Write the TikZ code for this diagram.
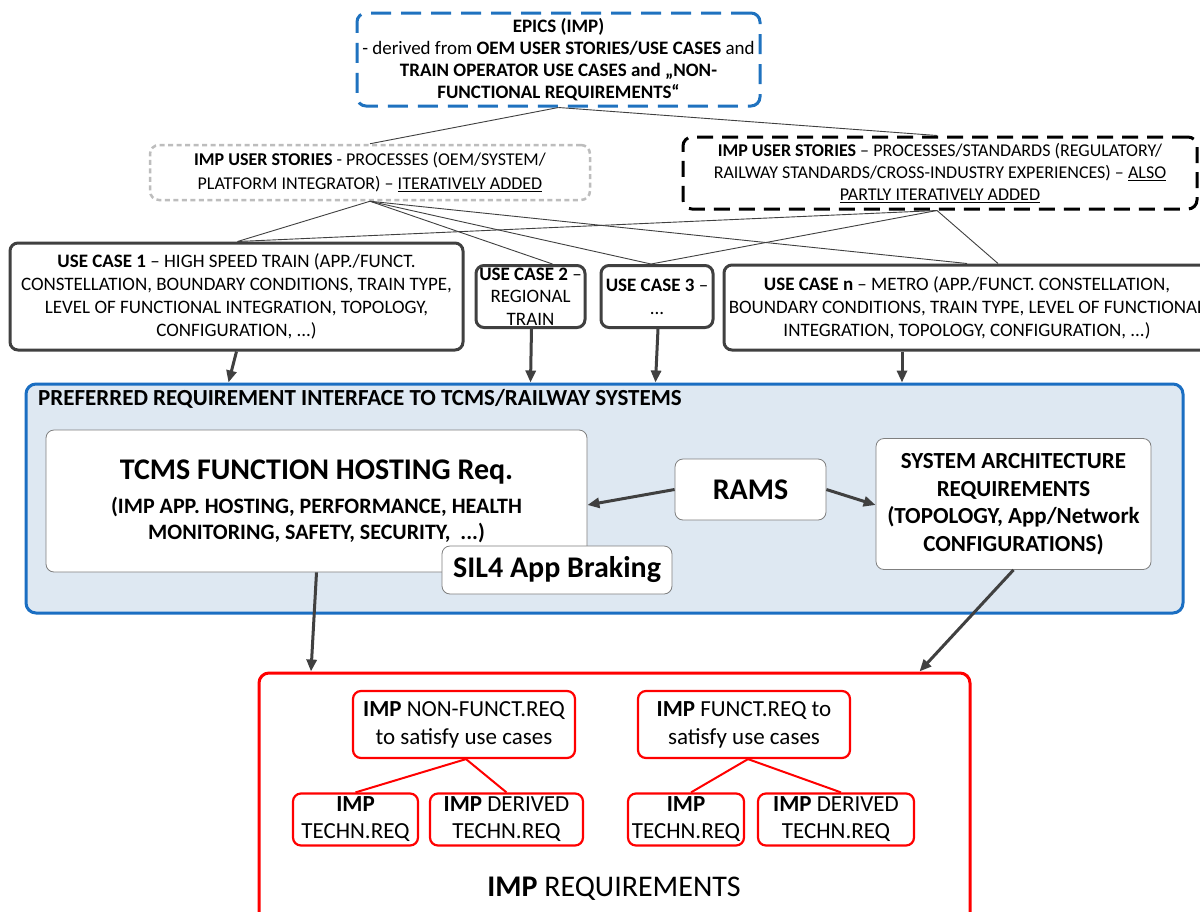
\documentclass[tikz,border=0pt]{standalone}
\usepackage{fontspec}
\setmainfont{Carlito}
\usetikzlibrary{arrows.meta,positioning,calc}
\definecolor{epicblue}{HTML}{1F72BF}
\definecolor{storygray}{HTML}{BDBDBD}
\definecolor{boxdark}{HTML}{404040}
\definecolor{panelfill}{HTML}{DEE8F2}
\definecolor{panelblue}{HTML}{1A6EC2}
\definecolor{reqred}{HTML}{FF0000}
\definecolor{innergray}{HTML}{7F7F7F}
\newcommand{\fsz}[2]{\fontsize{#1}{#2}\selectfont}

\tikzset{
  storybox/.style={align=center, rounded corners=9pt, inner sep=1pt, font=\fsz{18}{23}},
  usecase/.style={draw=boxdark, line width=3pt, rounded corners=8pt, fill=white,
    align=center, inner sep=1pt, font=\fsz{19}{23}},
  hostbox/.style={draw=innergray, line width=0.8pt, rounded corners=8pt, fill=white,
    align=center, inner sep=2pt},
  reqbox/.style={draw=reqred, line width=2.2pt, rounded corners=8pt, fill=white,
    align=center, inner sep=1pt, font=\fsz{23}{28}},
  link/.style={boxdark, line width=0.9pt},
  redlink/.style={reqred, line width=2pt},
  fatarrow/.style={boxdark, line width=3pt, -{Triangle[length=12pt,width=10pt]}},
}

\begin{document}
\begin{tikzpicture}[x=1pt,y=-1pt]
  \clip (0,0) rectangle (1200,911);
  \fill[white] (0,0) rectangle (1200,911);

  % epics and user stories
  \node[storybox, font=\fsz{19}{22}, draw=epicblue, line width=3pt, dash pattern=on 20pt off 10pt,
    minimum width=403pt, minimum height=93pt] (epics) at (558.5,59.5)
    {\textbf{EPICS (IMP)}\\- derived from \textbf{OEM USER STORIES/USE CASES} and\\
     \textbf{TRAIN OPERATOR USE CASES and „NON-}\\\textbf{FUNCTIONAL REQUIREMENTS“}};
  \node[storybox, font=\fsz{18}{24}, draw=storygray, line width=2.5pt, dash pattern=on 5pt off 3.5pt,
    minimum width=440pt, minimum height=55pt] (oemstory) at (370,172.5)
    {\textbf{IMP USER STORIES} - PROCESSES (OEM/SYSTEM/\\
     PLATFORM INTEGRATOR) – \underline{ITERATIVELY ADDED}};
  \node[storybox, font=\fsz{18}{22}, draw=black, line width=3pt, dash pattern=on 16pt off 9pt,
    minimum width=514pt, minimum height=72pt] (stdstory) at (940,173)
    {\textbf{IMP USER STORIES} – PROCESSES/STANDARDS (REGULATORY/\\
     RAILWAY STANDARDS/CROSS-INDUSTRY EXPERIENCES) – \underline{ALSO}\\
     \underline{PARTLY ITERATIVELY ADDED}};

  % use cases
  \node[usecase, minimum width=453pt, minimum height=107pt] (uc1) at (236.5,296.5)
    {\textbf{USE CASE 1} – HIGH SPEED TRAIN (APP./FUNCT.\\
     CONSTELLATION, BOUNDARY CONDITIONS, TRAIN TYPE,\\
     LEVEL OF FUNCTIONAL INTEGRATION, TOPOLOGY,\\CONFIGURATION, ...)};
  \node[usecase, minimum width=109pt, minimum height=62pt] (uc2) at (530.5,296.5) {};
  \node[align=center, inner sep=0pt, font=\fsz{19}{22.5}] (uc2text) at (uc2)
    {\textbf{USE CASE 2} –\\REGIONAL\\TRAIN};
  \node[usecase, minimum width=112pt, minimum height=62pt] (uc3) at (657,296.5)
    {\textbf{USE CASE 3} –\\...};
  \node[usecase, minimum width=486pt, minimum height=85pt] (ucn) at (967,307.5)
    {\textbf{USE CASE n} – METRO (APP./FUNCT. CONSTELLATION,\\
     BOUNDARY CONDITIONS, TRAIN TYPE, LEVEL OF FUNCTIONAL\\
     INTEGRATION, TOPOLOGY, CONFIGURATION, ...)};

  \draw[link] (epics.south) -- (oemstory.north);
  \draw[link] (epics.south) -- ([xshift=-3pt]stdstory.north);
  \draw[link] (oemstory.south) -- ([xshift=1pt]uc1.north);
  \draw[link] (oemstory.south) -- ([xshift=22pt]uc2.north);
  \draw[link] (oemstory.south) -- ([xshift=-6pt]uc3.north);
  \draw[link] (oemstory.south) -- (ucn.north);
  \draw[link] ([xshift=-3pt]stdstory.south) -- ([xshift=1pt]uc1.north);
  \draw[link] ([xshift=-3pt]stdstory.south) -- ([xshift=-6pt]uc3.north);
  \draw[link] ([xshift=-3pt]stdstory.south) -- ([xshift=31pt]ucn.north);

  % preferred interface panel
  \node[draw=panelblue, fill=panelfill, line width=3pt, rounded corners=10pt,
    minimum width=1157pt, minimum height=229pt] (panel) at (604.5,498.5) {};
  \node[anchor=west, inner sep=0pt, font=\fsz{23}{26}\bfseries] (paneltitle) at (38,399)
    {PREFERRED REQUIREMENT INTERFACE TO TCMS/RAILWAY SYSTEMS};

  \node[hostbox, minimum width=541pt, minimum height=142pt, font=\fsz{22}{26}\bfseries]
    (tcms) at (316.5,501)
    {{\fsz{30}{34}TCMS FUNCTION HOSTING Req.}\\[8pt]
     (IMP APP. HOSTING, PERFORMANCE, HEALTH\\
     MONITORING, SAFETY, SECURITY,\ \ ...)};
  \node[hostbox, minimum width=230pt, minimum height=48pt, font=\fsz{30}{34}\bfseries]
    (sil4) at (557,570) {SIL4 App Braking};
  \node[hostbox, minimum width=151pt, minimum height=61pt, font=\fsz{30}{34}\bfseries]
    (rams) at (750.5,489.5) {RAMS};
  \node[hostbox, minimum width=275pt, minimum height=131pt, font=\fsz{23}{27.5}\bfseries]
    (sysarch) at (1013.5,504) {SYSTEM ARCHITECTURE\\REQUIREMENTS\\
     (TOPOLOGY, App/Network\\CONFIGURATIONS)};

  \draw[fatarrow] (rams.west) -- ([yshift=-4pt]tcms.east);
  \draw[fatarrow] (rams.east) -- ([yshift=-1pt]sysarch.west);

  \draw[fatarrow] (uc1.south) -- ([xshift=-376pt]panel.north);
  \draw[fatarrow] ([xshift=1pt]uc2.south) -- ([xshift=-74pt]panel.north);
  \draw[fatarrow] ([xshift=1pt]uc3.south) -- ([xshift=51pt]panel.north);
  \draw[fatarrow] ([xshift=-65pt]ucn.south) -- ([xshift=297.5pt]panel.north);

  % imp requirements
  \node[draw=reqred, line width=3pt, rounded corners=10pt, fill=white,
    minimum width=711pt, minimum height=257pt] (reqpanel) at (614.5,801.5) {};
  \node[font=\fsz{30}{34}] (reqtitle) at (614,889) {\textbf{IMP} REQUIREMENTS};

  \node[reqbox, minimum width=222pt, minimum height=67pt] (nfreq) at (464,724.5)
    {\textbf{IMP} NON-FUNCT.REQ\\to satisfy use cases};
  \node[reqbox, minimum width=212pt, minimum height=67pt] (freq) at (744,724.5)
    {\textbf{IMP} FUNCT.REQ to\\satisfy use cases};
  \node[reqbox, font=\fsz{23}{27}, minimum width=125pt, minimum height=52pt] (tech1) at (355.5,819.5)
    {\textbf{IMP}\\TECHN.REQ};
  \node[reqbox, font=\fsz{23}{27}, minimum width=153pt, minimum height=52pt] (tech2) at (506.5,819.5)
    {\textbf{IMP} DERIVED\\TECHN.REQ};
  \node[reqbox, font=\fsz{23}{27}, minimum width=116pt, minimum height=52pt] (tech3) at (686,819.5)
    {\textbf{IMP}\\TECHN.REQ};
  \node[reqbox, font=\fsz{23}{27}, minimum width=156pt, minimum height=52pt] (tech4) at (836,819.5)
    {\textbf{IMP} DERIVED\\TECHN.REQ};

  \draw[redlink] ([xshift=2pt]nfreq.south) -- (tech1.north);
  \draw[redlink] ([xshift=2pt]nfreq.south) -- (tech2.north);
  \draw[redlink] ([xshift=4pt]freq.south) -- ([xshift=5pt]tech3.north);
  \draw[redlink] ([xshift=4pt]freq.south) -- ([xshift=5pt]tech4.north);

  \draw[fatarrow] (tcms.south) -- ([xshift=-303.5pt]reqpanel.north);
  \draw[fatarrow] (sysarch.south) -- ([xshift=305pt]reqpanel.north);
\end{tikzpicture}
\end{document}
